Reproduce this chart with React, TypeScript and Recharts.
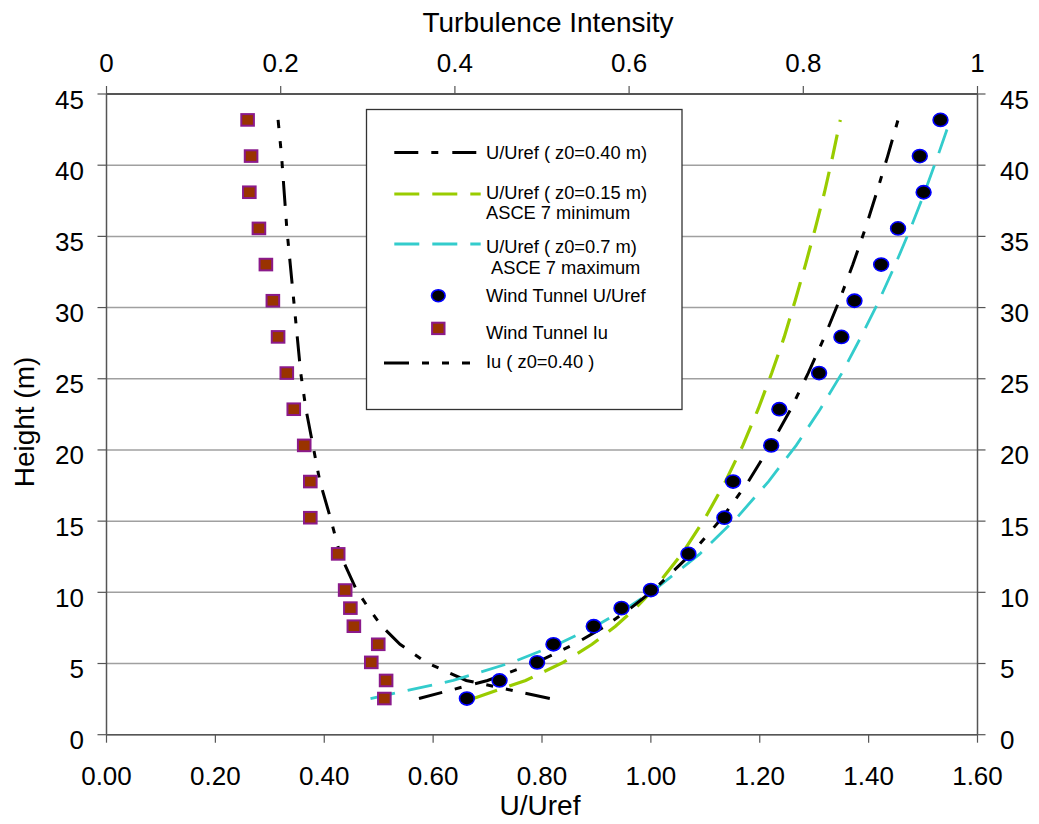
import React from "react";
import { ScatterChart, Scatter, XAxis, YAxis, CartesianGrid, Legend } from "recharts";

// Heights (m)
const HEIGHTS = [2.54, 3.81, 5.08, 6.35, 7.62, 8.89, 10.16, 12.7, 15.24, 17.78, 20.32, 22.86, 25.4, 27.94, 30.48, 33.02, 35.56, 38.1, 40.64, 43.18];

// Wind tunnel measurements
const WT_U = [0.662, 0.722, 0.791, 0.821, 0.895, 0.946, 1.0, 1.069, 1.135, 1.151, 1.221, 1.236, 1.309, 1.35, 1.374, 1.423, 1.454, 1.501, 1.494, 1.532];
const WT_IU = [0.319, 0.321, 0.304, 0.312, 0.284, 0.28, 0.274, 0.266, 0.234, 0.234, 0.227, 0.215, 0.207, 0.197, 0.191, 0.183, 0.175, 0.164, 0.166, 0.162];

// Profiles
const U_Z040 = [0.574, 0.7, 0.79, 0.859, 0.916, 0.963, 1.005, 1.074, 1.131, 1.179, 1.22, 1.257, 1.289, 1.319, 1.346, 1.371, 1.394, 1.415, 1.435, 1.454];
const U_Z015 = [0.674, 0.77, 0.839, 0.892, 0.935, 0.972, 1.004, 1.057, 1.1, 1.137, 1.169, 1.197, 1.222, 1.245, 1.265, 1.284, 1.302, 1.319, 1.334, 1.348];
const U_Z070 = [0.485, 0.637, 0.745, 0.829, 0.898, 0.956, 1.006, 1.09, 1.158, 1.216, 1.267, 1.311, 1.351, 1.386, 1.419, 1.449, 1.477, 1.503, 1.527, 1.55];
const IU_Z040 = [0.509, 0.413, 0.367, 0.337, 0.316, 0.301, 0.287, 0.268, 0.257, 0.245, 0.237, 0.229, 0.223, 0.219, 0.215, 0.211, 0.207, 0.204, 0.201, 0.197];

// Ticks
const U_TICKS = [0, 0.2, 0.4, 0.6, 0.8, 1.0, 1.2, 1.4, 1.6];
const TI_TICKS = [0, 0.2, 0.4, 0.6, 0.8, 1];
const H_TICKS = [0, 5, 10, 15, 20, 25, 30, 35, 40, 45];

const FONT = "'Liberation Sans', Arial, Helvetica, sans-serif";
const GREEN = "#99CC00";
const CYAN = "#33CCCC";
const AXIS = "#555555";

const toPts = (xs: number[], hs: number[]) => xs.map((x, i) => ({ x, y: hs[i] }));

const BottomTick = (p: any) => (
  <text x={p.x} y={p.y + 42.5} textAnchor="middle" fontSize={26} fontFamily={FONT} fill="#000">
    {Number(p.payload.value).toFixed(2)}
  </text>
);
const TopTick = (p: any) => {
  const v = Number(p.payload.value);
  const s = v === 0 ? "0" : v === 1 ? "1" : v.toFixed(1);
  return (
    <text x={p.x} y={p.y - 14.3} textAnchor="middle" fontSize={26} fontFamily={FONT} fill="#000">
      {s}
    </text>
  );
};
const LeftTick = (p: any) => (
  <text x={p.x - 13.5} y={p.y + 14.5} textAnchor="end" fontSize={26} fontFamily={FONT} fill="#000">
    {String(p.payload.value)}
  </text>
);
const RightTick = (p: any) => (
  <text x={p.x + 14.5} y={p.y + 14.5} textAnchor="start" fontSize={26} fontFamily={FONT} fill="#000">
    {String(p.payload.value)}
  </text>
);

const Dot = (p: any) =>
  p.cx == null ? <g /> : (
    <ellipse cx={p.cx} cy={p.cy} rx={7.4} ry={6.6} fill="#000" stroke="#0000FF" strokeWidth={1.6} />
  );
const Sq = (p: any) =>
  p.cx == null ? <g /> : (
    <rect x={p.cx - 6.3} y={p.cy - 5.8} width={12.6} height={11.6} fill="#993300" stroke="#8B1A8B" strokeWidth={2} />
  );
const NoShape = () => <g />;

const LegendBox = () => {
  const t = { fontSize: 18.3, fontFamily: FONT, fill: "#000" } as const;
  return (
    <svg width={318} height={302} style={{ overflow: "visible", display: "block" }}>
      <rect x={0.5} y={0.5} width={315.5} height={300} fill="#fff" stroke="#333" strokeWidth={1.3} />
      <line x1={28.3} y1={43.4} x2={114.7} y2={43.4} stroke="#000" strokeWidth={3} strokeDasharray="24 13 7 14" />
      <text x={120} y={49.7} {...t}>U/Uref ( z0=0.40 m)</text>
      <line x1={28.3} y1={85} x2={114.7} y2={85} stroke={GREEN} strokeWidth={3.2} strokeDasharray="25 13" />
      <text x={120} y={90} {...t}>U/Uref ( z0=0.15 m)</text>
      <text x={120} y={110} {...t}>ASCE 7 minimum</text>
      <line x1={28.3} y1={135} x2={114.7} y2={135} stroke={CYAN} strokeWidth={2.8} strokeDasharray="25 13" />
      <text x={120} y={144} {...t}>U/Uref ( z0=0.7 m)</text>
      <text x={125} y={165} {...t}>ASCE 7 maximum</text>
      <ellipse cx={72.3} cy={186.7} rx={6.8} ry={6} fill="#000" stroke="#0000FF" strokeWidth={1.6} />
      <text x={120} y={193.4} {...t}>Wind Tunnel U/Uref</text>
      <rect x={66.1} y={213.7} width={12.4} height={11.4} fill="#993300" stroke="#8B1A8B" strokeWidth={2} />
      <text x={120} y={229.7} {...t}>Wind Tunnel Iu</text>
      <line x1={18} y1={254} x2={104} y2={254} stroke="#000" strokeWidth={3} strokeDasharray="25 13 7 13 7 13" />
      <text x={120} y={259} {...t}>Iu ( z0=0.40 )</text>
    </svg>
  );
};

export default function App() {
  return (
    <div style={{ position: "absolute", left: 0, top: 0, width: 1039, height: 824 }}>
      <ScatterChart width={1039} height={824} margin={{ top: 0, right: 0, bottom: 0, left: 0 }}>
        <CartesianGrid horizontal vertical={false} xAxisId="u" yAxisId="left" stroke="#a0a0a0" strokeWidth={1.5} />
        <XAxis
          xAxisId="u"
          type="number"
          dataKey="x"
          orientation="bottom"
          domain={[0, 1.6]}
          ticks={U_TICKS}
          interval={0}
          allowDataOverflow
          height={89.3}
          tickSize={8}
          tickMargin={0}
          tick={BottomTick}
          axisLine={{ stroke: AXIS, strokeWidth: 1.5 }}
          tickLine={{ stroke: AXIS, strokeWidth: 1.2 }}
          label={{
            content: () => (
              <text x={540} y={815} textAnchor="middle" fontSize={28} fontFamily={FONT} fill="#000">
                U/Uref
              </text>
            ),
          }}
        />
        <XAxis
          xAxisId="ti"
          type="number"
          dataKey="x"
          orientation="top"
          domain={[0, 1]}
          ticks={TI_TICKS}
          interval={0}
          allowDataOverflow
          height={94}
          tickSize={8}
          tickMargin={0}
          tick={TopTick}
          axisLine={{ stroke: AXIS, strokeWidth: 2 }}
          tickLine={{ stroke: AXIS, strokeWidth: 1.2 }}
          label={{
            content: () => (
              <text x={548} y={31.7} textAnchor="middle" fontSize={28} fontFamily={FONT} fill="#000">
                Turbulence Intensity
              </text>
            ),
          }}
        />
        <YAxis
          yAxisId="left"
          type="number"
          dataKey="y"
          orientation="left"
          domain={[0, 45]}
          ticks={H_TICKS}
          interval={0}
          allowDataOverflow
          width={106.5}
          tickSize={9}
          tickMargin={0}
          tick={LeftTick}
          axisLine={{ stroke: AXIS, strokeWidth: 1.5 }}
          tickLine={{ stroke: AXIS, strokeWidth: 1.2 }}
          label={{
            content: () => (
              <text
                x={34}
                y={422}
                transform="rotate(-90, 34, 422)"
                textAnchor="middle"
                fontSize={28}
                fontFamily={FONT}
                fill="#000"
              >
                Height (m)
              </text>
            ),
          }}
        />
        <YAxis
          yAxisId="right"
          type="number"
          dataKey="y"
          orientation="right"
          domain={[0, 45]}
          ticks={H_TICKS}
          interval={0}
          allowDataOverflow
          width={61.5}
          tickSize={8}
          tickMargin={0}
          tick={RightTick}
          axisLine={{ stroke: AXIS, strokeWidth: 1.5 }}
          tickLine={{ stroke: AXIS, strokeWidth: 1.2 }}
        />

        <Scatter
          name="Iu ( z0=0.40 )"
          data={toPts(IU_Z040, HEIGHTS)}
          xAxisId="ti"
          yAxisId="left"
          fill="#000"
          line={{ stroke: "#000", strokeWidth: 3, strokeDasharray: "25 13 7 13 7 13" }}
          shape={NoShape}
          legendType="none"
          isAnimationActive={false}
        />
        <Scatter
          name="U/Uref ( z0=0.15 m)"
          data={toPts(U_Z015, HEIGHTS)}
          xAxisId="u"
          yAxisId="left"
          fill={GREEN}
          line={{ stroke: GREEN, strokeWidth: 3.2, strokeDasharray: "25 13" }}
          shape={NoShape}
          legendType="none"
          isAnimationActive={false}
        />
        <Scatter
          name="U/Uref ( z0=0.7 m)"
          data={toPts(U_Z070, HEIGHTS)}
          xAxisId="u"
          yAxisId="left"
          fill={CYAN}
          line={{ stroke: CYAN, strokeWidth: 2.8, strokeDasharray: "25 13" }}
          shape={NoShape}
          legendType="none"
          isAnimationActive={false}
        />
        <Scatter
          name="U/Uref ( z0=0.40 m)"
          data={toPts(U_Z040, HEIGHTS)}
          xAxisId="u"
          yAxisId="left"
          fill="#000"
          line={{ stroke: "#000", strokeWidth: 3, strokeDasharray: "24 13 7 14" }}
          shape={NoShape}
          legendType="none"
          isAnimationActive={false}
        />
        <Scatter
          name="Wind Tunnel Iu"
          data={toPts(WT_IU, HEIGHTS)}
          xAxisId="ti"
          yAxisId="left"
          fill="#993300"
          shape={Sq}
          legendType="none"
          isAnimationActive={false}
        />
        <Scatter
          name="Wind Tunnel U/Uref"
          data={toPts(WT_U, HEIGHTS)}
          xAxisId="u"
          yAxisId="left"
          fill="#000"
          shape={Dot}
          legendType="none"
          isAnimationActive={false}
        />
        <Legend
          layout="horizontal"
          verticalAlign="middle"
          align="center"
          content={LegendBox}
          wrapperStyle={{ left: 366, top: 109.3, width: 318, height: 302 }}
        />
      </ScatterChart>
    </div>
  );
}
